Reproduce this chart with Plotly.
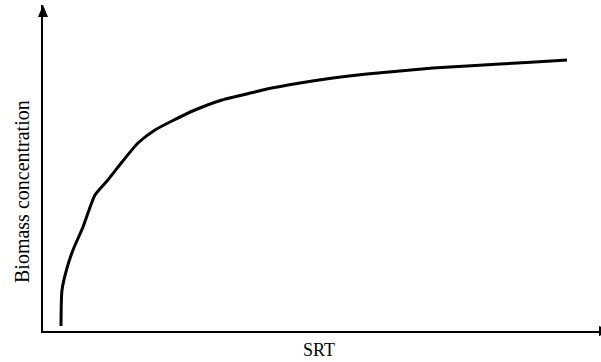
import plotly.graph_objects as go

# SRT (arbitrary units) and biomass concentration (arbitrary units)
srt = [18, 19, 24, 30, 40, 52, 64, 79, 95, 112, 129, 152, 179, 212, 224,
       257, 290, 324, 357, 390, 424, 457, 492, 524]
biomass = [5, 41, 63, 81, 104, 136, 150, 169, 188, 201, 210, 221, 231, 239, 242,
           248, 253, 257, 260, 263, 265, 267, 269, 271]

x_title = "SRT"
y_title = "Biomass concentration"

FONT = "Liberation Serif"

fig = go.Figure()
fig.add_trace(go.Scatter(x=srt, y=biomass, mode="lines",
                         line=dict(color="black", width=3, shape="spline", smoothing=0.6),
                         hoverinfo="skip", showlegend=False))

fig.update_layout(
    width=601, height=362,
    margin=dict(l=43, r=0, t=5, b=31),
    paper_bgcolor="white", plot_bgcolor="white",
    xaxis=dict(range=[0, 558], showgrid=False, zeroline=False, showticklabels=False,
               ticks="", showline=True, linecolor="black", linewidth=1.8),
    yaxis=dict(range=[0, 326], showgrid=False, zeroline=False, showticklabels=False,
               ticks="", showline=True, linecolor="black", linewidth=1.8),
    font=dict(family=FONT, color="black", size=17),
    shapes=[
        dict(type="path", xref="paper", yref="paper", xsizemode="pixel", ysizemode="pixel",
             xanchor=0, yanchor=1, path="M0,0 L-5,-12 L5,-12 Z",
             fillcolor="black", line=dict(width=0)),
        dict(type="path", xref="paper", yref="paper", xsizemode="pixel", ysizemode="pixel",
             xanchor=1, yanchor=0, path="M-2,5 L-2,-5 L10,0 Z",
             fillcolor="black", line=dict(width=0)),
    ],
    annotations=[
        dict(text=y_title, xref="paper", yref="paper", x=0, y=(331 - 192) / 326,
             xshift=-21, textangle=-90, showarrow=False, xanchor="center", yanchor="middle",
             font=dict(family=FONT, size=20, color="black")),
        dict(text=x_title, xref="paper", yref="paper", x=(319 - 43) / 558, y=0,
             yshift=-19, showarrow=False, xanchor="center", yanchor="middle",
             font=dict(family=FONT, size=18, color="black")),
    ],
)

fig.write_html("out.html", config={"displayModeBar": False})
with open("out.html", "r", encoding="utf-8") as f:
    html = f.read()
html = html.replace("<body>", '<body style="margin:0;padding:0;overflow:hidden">', 1)
with open("out.html", "w", encoding="utf-8") as f:
    f.write(html)
